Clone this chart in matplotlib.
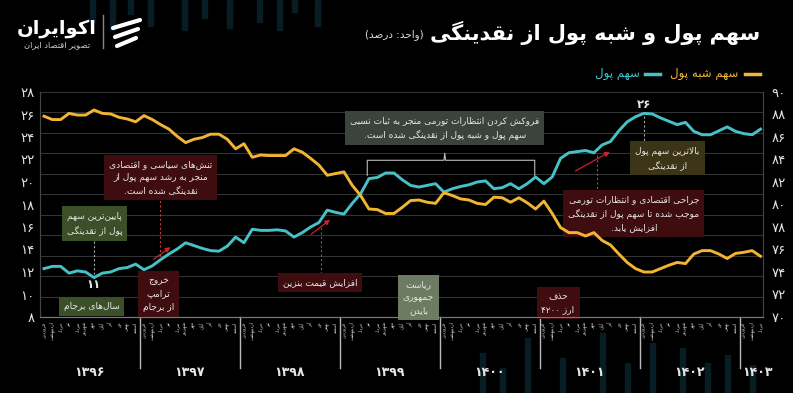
import re
import numpy as np
import matplotlib
matplotlib.use("Agg")
import matplotlib.pyplot as plt
from matplotlib.lines import Line2D
from matplotlib.patches import Rectangle

plt.rcParams['font.family'] = ['DejaVu Sans']

# ---- data (percent of liquidity), monthly 1396/01 .. 1403/03 ----
money_share = [12.3, 12.5, 12.5, 11.9, 12.1, 12.0, 11.5, 11.9, 12.0, 12.3, 12.4, 12.7,
               12.2, 12.55, 13.1, 13.6, 14.05, 14.6, 14.35, 14.1, 13.9, 13.85, 14.3, 15.1,
               14.6, 15.8, 15.7, 15.7, 15.75, 15.65, 15.1, 15.5, 16.0, 16.4, 17.5, 17.3,
               17.15, 18.1, 18.95, 20.3, 20.4, 20.8, 20.8, 20.2, 19.7, 19.55, 19.7, 19.85,
               19.1, 19.4, 19.6, 19.75, 20.0, 20.1, 19.4, 19.5, 19.85, 19.4, 19.85, 20.45,
               19.85, 20.45, 22.1, 22.6, 22.7, 22.8, 22.6, 23.3, 23.6, 24.55, 25.35, 25.8,
               26.1, 26.05, 25.7, 25.4, 25.1, 25.3, 24.5, 24.2, 24.2, 24.55, 24.9, 24.5,
               24.3, 24.2, 24.7]
quasi_share = [87.85, 87.55, 87.55, 88.1, 87.95, 87.95, 88.4, 88.1, 88.05, 87.75, 87.6, 87.35,
               87.9, 87.55, 87.1, 86.7, 86.05, 85.5, 85.8, 85.95, 86.25, 86.25, 85.8, 84.95,
               85.4, 84.2, 84.4, 84.35, 84.35, 84.35, 84.95, 84.65, 84.1, 83.5, 82.6, 82.75,
               82.9, 81.7, 80.8, 79.6, 79.55, 79.2, 79.2, 79.75, 80.35, 80.4, 80.2, 80.1,
               81.05, 80.8, 80.5, 80.4, 80.1, 80.0, 80.65, 80.6, 80.2, 80.6, 80.15, 79.6,
               80.3, 79.2, 77.95, 77.5, 77.5, 77.2, 77.5, 76.8, 76.4, 75.6, 74.85, 74.3,
               74.0, 74.0, 74.3, 74.6, 74.85, 74.75, 75.6, 75.9, 75.9, 75.6, 75.2, 75.65,
               75.75, 75.9, 75.4]
months = ['فروردین', 'اردیبهشت', 'خرداد', 'تیر', 'مرداد', 'شهریور',
          'مهر', 'آبان', 'آذر', 'دی', 'بهمن', 'اسفند']
years = ['۱۳۹۶', '۱۳۹۷', '۱۳۹۸', '۱۳۹۹', '۱۴۰۰', '۱۴۰۱', '۱۴۰۲', '۱۴۰۳']
left_ticks = list(range(8, 29, 2))
right_ticks = list(range(70, 91, 2))

# ---- minimal Persian shaping (matplotlib has no RTL shaping) ----
F = {
    'ا': ('\uFE8D', '\uFE8E', None, None), 'آ': ('\uFE81', '\uFE82', None, None),
    'ب': ('\uFE8F', '\uFE90', '\uFE91', '\uFE92'), 'پ': ('\uFB56', '\uFB57', '\uFB58', '\uFB59'),
    'ت': ('\uFE95', '\uFE96', '\uFE97', '\uFE98'), 'ث': ('\uFE99', '\uFE9A', '\uFE9B', '\uFE9C'),
    'ج': ('\uFE9D', '\uFE9E', '\uFE9F', '\uFEA0'), 'چ': ('\uFB7A', '\uFB7B', '\uFB7C', '\uFB7D'),
    'ح': ('\uFEA1', '\uFEA2', '\uFEA3', '\uFEA4'), 'خ': ('\uFEA5', '\uFEA6', '\uFEA7', '\uFEA8'),
    'د': ('\uFEA9', '\uFEAA', None, None), 'ذ': ('\uFEAB', '\uFEAC', None, None),
    'ر': ('\uFEAD', '\uFEAE', None, None), 'ز': ('\uFEAF', '\uFEB0', None, None),
    'ژ': ('\uFB8A', '\uFB8B', None, None),
    'س': ('\uFEB1', '\uFEB2', '\uFEB3', '\uFEB4'), 'ش': ('\uFEB5', '\uFEB6', '\uFEB7', '\uFEB8'),
    'ص': ('\uFEB9', '\uFEBA', '\uFEBB', '\uFEBC'), 'ض': ('\uFEBD', '\uFEBE', '\uFEBF', '\uFEC0'),
    'ط': ('\uFEC1', '\uFEC2', '\uFEC3', '\uFEC4'), 'ظ': ('\uFEC5', '\uFEC6', '\uFEC7', '\uFEC8'),
    'ع': ('\uFEC9', '\uFECA', '\uFECB', '\uFECC'), 'غ': ('\uFECD', '\uFECE', '\uFECF', '\uFED0'),
    'ف': ('\uFED1', '\uFED2', '\uFED3', '\uFED4'), 'ق': ('\uFED5', '\uFED6', '\uFED7', '\uFED8'),
    'ک': ('\uFB8E', '\uFB8F', '\uFB90', '\uFB91'), 'گ': ('\uFB92', '\uFB93', '\uFB94', '\uFB95'),
    'ل': ('\uFEDD', '\uFEDE', '\uFEDF', '\uFEE0'), 'م': ('\uFEE1', '\uFEE2', '\uFEE3', '\uFEE4'),
    'ن': ('\uFEE5', '\uFEE6', '\uFEE7', '\uFEE8'), 'و': ('\uFEED', '\uFEEE', None, None),
    'ه': ('\uFEE9', '\uFEEA', '\uFEEB', '\uFEEC'), 'ی': ('\uFBFC', '\uFBFD', '\uFBFE', '\uFBFF'),
}
LAMALEF = {'ا': ('\uFEFB', '\uFEFC'), 'آ': ('\uFEF5', '\uFEF6')}


def shape(s):
    out = []
    i = 0
    while i < len(s):
        c = s[i]
        if c not in F:
            out.append(c)
            i += 1
            continue
        prev = s[i - 1] if i > 0 else ''
        pj = prev in F and F[prev][2] is not None
        if c == 'ل' and i + 1 < len(s) and s[i + 1] in LAMALEF:
            out.append(LAMALEF[s[i + 1]][1 if pj else 0])
            i += 2
            continue
        nxt = s[i + 1] if i + 1 < len(s) else ''
        nj = F[c][2] is not None and nxt in F
        iso, fin, ini, med = F[c]
        out.append(med if (pj and nj) else fin if pj else ini if nj else iso)
        i += 1
    return ''.join(out)


def fa(text):
    res = []
    for ln in text.split('\n'):
        v = shape(ln).replace('\u200c', '')[::-1]
        v = re.sub(r'[0-9۰-۹]+', lambda m: m.group(0)[::-1], v)
        res.append(v.translate(str.maketrans('()', ')(')))
    return '\n'.join(res)


def fd(n):
    return str(n).translate(str.maketrans('0123456789', '۰۱۲۳۴۵۶۷۸۹'))


CYAN = '#46c2c7'
YELLOW = '#f2b531'
RED_BOX = '#3f0d0f'
GREEN_BOX = '#3b5029'
TXT = '#e6e6e6'

W, H = 793, 393
fig = plt.figure(figsize=(W / 100, H / 100), dpi=100, facecolor='black')

# faint decorative bars in the background (own axes, behind everything)
bg = fig.add_axes([0, 0, 1, 1], zorder=-5)
bg.set_axis_off()
bg.set_xlim(0, W)
bg.set_ylim(H, 0)
for bx, bh in [(90, 22), (110, 30), (128, 14), (148, 26), (182, 30), (202, 18), (227, 28),
               (257, 22), (277, 30), (292, 12), (315, 26)]:
    bg.add_patch(Rectangle((bx, 0), 5, bh, color='#081c23'))
for bx, bh in [(480, 40), (500, 25), (525, 55), (560, 35), (600, 60), (625, 30), (650, 50),
               (680, 45), (705, 30), (725, 38), (750, 28)]:
    bg.add_patch(Rectangle((bx, H - bh), 5, bh, color='#081c23'))

ax = fig.add_axes([40 / W, (H - 317) / H, 723 / W, 225 / H])
ax.set_facecolor('none')
ax2 = ax.twinx()
x = np.arange(len(money_share))

for g in np.linspace(8, 28, 12):
    ax.axhline(g, color='#333333', lw=0.8, zorder=0)

ax.plot(x, money_share, color=CYAN, lw=2.1, zorder=3)
ax2.plot(x, quasi_share, color=YELLOW, lw=2.1, zorder=3)

ax.set_xlim(-0.48, 86.3)
ax.set_ylim(8, 28)
ax2.set_ylim(70, 90)
ax.set_yticks(left_ticks)
ax.set_yticklabels([fd(t) for t in left_ticks])
ax2.set_yticks(right_ticks)
ax2.set_yticklabels([fd(t) for t in right_ticks])
ax.tick_params(axis='y', length=0, pad=4, labelsize=9.5, labelcolor=TXT)
ax2.tick_params(axis='y', length=0, pad=6, labelsize=9.5, labelcolor=TXT)
ax.set_xticks([])
for a in (ax, ax2):
    a.spines['top'].set_visible(False)
    a.spines['left'].set_color('#444444')
    a.spines['right'].set_color('#444444')
    a.spines['bottom'].set_color('#777777')

# month labels, year separators and year labels
xt = ax.get_xaxis_transform()
for i in x:
    ax.text(i, -0.02, fa(months[i % 12]), transform=xt, rotation=90, ha='center', va='top',
            fontsize=3.3, color='#cccccc')
for k in range(1, len(years)):
    xs = 11.5 + 12 * (k - 1)
    ax.plot([xs, xs], [0, -0.225], transform=xt, color='#bbbbbb', lw=1, clip_on=False)
for k, yl in enumerate(years):
    xc = 5.5 + 12 * k if k < len(years) - 1 else 85.6
    ax.text(xc, -0.245, yl, transform=xt, ha='center', va='center', fontsize=9,
            color=TXT, fontweight='bold')


def box(xc, yc, text, fc, color=TXT, size=6.5):
    ax.text(xc, yc, fa(text), ha='center', va='center', fontsize=size, color=color,
            multialignment='center', linespacing=1.6, zorder=5,
            bbox=dict(boxstyle='square,pad=0.55', fc=fc, ec='none'))


def dotted(x0, y0, x1, y1, c='#c23a3a'):
    ax.plot([x0, x1], [y0, y1], color=c, lw=0.8, ls=(0, (2, 2)), zorder=4)


def arrow(x0, y0, x1, y1):
    ax.annotate('', xy=(x1, y1), xytext=(x0, y0), zorder=4,
                arrowprops=dict(arrowstyle='-|>', color='#c8262c', lw=0.9,
                                mutation_scale=7))


# annotations
box(6.05, 16.3, 'پایین\u200cترین سهم\nپول از نقدینگی', GREEN_BOX)
dotted(6.0, 14.8, 6.0, 11.8, '#aaaaaa')
ax.text(6.0, 10.9, '۱۱', ha='center', va='center', fontsize=8.5, color=TXT, fontweight='bold')
box(5.7, 8.9, 'سال\u200cهای برجام', GREEN_BOX)

box(14.0, 20.4, 'تنش\u200cهای سیاسی و اقتصادی\nمنجر به رشد سهم پول از\nنقدینگی شده است.', RED_BOX)
dotted(13.9, 18.8, 13.9, 13.3)
arrow(12.9, 13.0, 15.45, 14.35)
box(13.75, 10.05, 'خروج\nترامپ\nاز برجام', RED_BOX)

box(33.1, 11.1, 'افزایش قیمت بنزین', RED_BOX)
dotted(33.25, 11.8, 33.25, 16.0)
arrow(31.8, 15.2, 34.6, 16.8)

box(44.95, 9.74, 'ریاست\nجمهوری\nبایدن', '#6d7b62')

box(48.1, 24.8, 'فروکش کردن انتظارات تورمی منجر به ثبات نسبی\nسهم پول و شبه پول از نقدینگی شده است.',
    '#3c433c')
ax.plot([38.8, 38.8, 48.0, 48.1, 48.2, 58.9, 58.9],
        [20.6, 21.93, 21.93, 22.55, 21.93, 21.93, 20.6], color='#bbbbbb', lw=0.8, zorder=4)

box(61.7, 9.25, 'حذف\nارز ۴۲۰۰', RED_BOX)

box(74.85, 22.1, 'بالاترین سهم پول\nاز نقدینگی', '#3b3417')
dotted(72.0, 25.9, 72.0, 23.4, '#aaaaaa')
ax.text(72.0, 26.85, '۲۶', ha='center', va='center', fontsize=8.5, color=TXT, fontweight='bold')

box(70.8, 17.2, 'جراحی اقتصادی و انتظارات تورمی\nموجب شده تا سهم پول از نقدینگی\nافزایش یابد.', RED_BOX)
dotted(66.4, 19.0, 66.4, 22.4)
arrow(63.5, 20.86, 68.2, 22.8)

# title, unit, legend
fig.text(760 / W, 1 - 33 / H, fa('سهم پول و شبه پول از نقدینگی'), ha='right', va='center',
         fontsize=15, fontweight='bold', color='white')
fig.text(424 / W, 1 - 35 / H, fa('(واحد: درصد)'), ha='right', va='center',
         fontsize=7.5, color='#dddddd')

fig.add_artist(Line2D([745 / W, 760 / W], [1 - 74 / H] * 2, color=YELLOW, lw=2.5))
fig.text(738 / W, 1 - 74 / H, fa('سهم شبه پول'), ha='right', va='center', fontsize=8.5, color=YELLOW)
fig.add_artist(Line2D([645 / W, 660 / W], [1 - 74 / H] * 2, color=CYAN, lw=2.5))
fig.text(640 / W, 1 - 74 / H, fa('سهم پول'), ha='right', va='center', fontsize=8.5, color=CYAN)

# logo
fig.text(57 / W, 1 - 28 / H, fa('اکوایران'), ha='center', va='center', fontsize=14,
         fontweight='bold', color='white')
fig.text(57 / W, 1 - 45 / H, fa('تصویر اقتصاد ایران'), ha='center', va='center', fontsize=6,
         color='#cccccc')
fig.add_artist(Line2D([103 / W, 103 / W], [1 - 15 / H, 1 - 48 / H], color='#888888', lw=1))
for k in range(3):
    y0 = 20 + k * 9
    fig.add_artist(Line2D([(113 + k * 2) / W, (140 - k * 2) / W],
                          [1 - (y0 + 8) / H, 1 - y0 / H], color='white', lw=3,
                          solid_capstyle='round'))

fig.savefig('out.png', dpi=100, facecolor='black')
